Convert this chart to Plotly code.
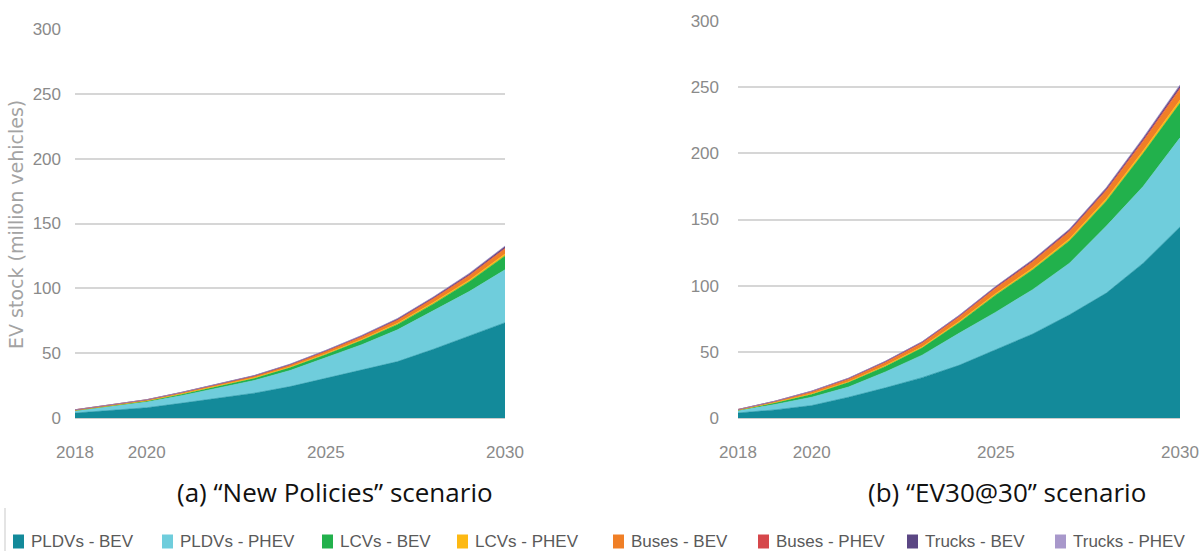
import plotly.graph_objects as go

# Years shown on both panels
years = list(range(2018, 2031))

# EV stock by segment and powertrain, million vehicles — "New Policies" scenario
np_pldv_bev = [3.8, 5.9, 7.9, 11.5, 15.3, 19.1, 24.2, 30.5, 37.0, 43.5, 53.0, 63.0, 73.5]
np_pldv_phev = [1.8, 3.0, 4.4, 5.9, 7.6, 9.8, 12.4, 16.0, 19.5, 24.5, 29.5, 34.5, 40.8]
np_lcv_bev = [0.2, 0.4, 0.8, 1.2, 1.5, 1.7, 2.3, 2.5, 3.4, 4.2, 5.5, 7.6, 10.7]
np_lcv_phev = [0.05, 0.1, 0.15, 0.2, 0.3, 0.4, 0.5, 0.6, 0.7, 0.8, 1.0, 1.2, 1.5]
np_bus_bev = [0.45, 0.6, 0.75, 0.95, 1.1, 1.3, 1.5, 1.8, 2.1, 2.5, 2.9, 3.4, 4.0]
np_bus_phev = [0.03, 0.05, 0.07, 0.1, 0.13, 0.16, 0.2, 0.25, 0.3, 0.35, 0.4, 0.45, 0.5]
np_truck_bev = [0.01, 0.03, 0.06, 0.1, 0.15, 0.22, 0.3, 0.4, 0.5, 0.65, 0.8, 1.0, 1.2]
np_truck_phev = [0.005, 0.01, 0.02, 0.04, 0.06, 0.09, 0.12, 0.16, 0.2, 0.25, 0.3, 0.38, 0.45]

# EV stock by segment and powertrain, million vehicles — "EV30@30" scenario
ev_pldv_bev = [3.8, 6.1, 9.4, 15.7, 22.8, 30.5, 39.8, 51.8, 63.5, 78.0, 94.4, 117.0, 144.4]
ev_pldv_phev = [1.6, 4.1, 6.3, 7.7, 12.0, 17.0, 24.2, 28.2, 33.5, 39.0, 50.6, 58.0, 67.3]
ev_lcv_bev = [0.5, 1.3, 2.3, 3.6, 4.2, 5.5, 8.0, 13.0, 15.0, 17.0, 19.0, 25.0, 26.3]
ev_lcv_phev = [0.05, 0.15, 0.3, 0.45, 0.6, 0.75, 0.9, 1.1, 1.3, 1.5, 1.7, 2.0, 2.3]
ev_bus_bev = [0.45, 0.8, 1.3, 1.8, 2.3, 2.8, 3.3, 3.9, 4.5, 5.2, 6.0, 7.0, 8.2]
ev_bus_phev = [0.03, 0.2, 0.6, 0.6, 0.6, 0.6, 0.6, 0.65, 0.7, 0.75, 0.8, 0.85, 0.9]
ev_truck_bev = [0.01, 0.05, 0.1, 0.2, 0.3, 0.4, 0.55, 0.7, 0.85, 1.0, 1.2, 1.4, 1.7]
ev_truck_phev = [0.005, 0.02, 0.05, 0.08, 0.12, 0.17, 0.22, 0.28, 0.35, 0.42, 0.5, 0.6, 0.7]

series_names = ["PLDVs - BEV", "PLDVs - PHEV", "LCVs - BEV", "LCVs - PHEV",
                "Buses - BEV", "Buses - PHEV", "Trucks - BEV", "Trucks - PHEV"]
series_colors = ["#138a9a", "#6fcddc", "#22b14c", "#fdb913",
                 "#f07f26", "#d6474b", "#5b4784", "#a898cb"]

new_policies = [np_pldv_bev, np_pldv_phev, np_lcv_bev, np_lcv_phev,
                np_bus_bev, np_bus_phev, np_truck_bev, np_truck_phev]
ev3030 = [ev_pldv_bev, ev_pldv_phev, ev_lcv_bev, ev_lcv_phev,
          ev_bus_bev, ev_bus_phev, ev_truck_bev, ev_truck_phev]

W, H = 1203, 551

fig = go.Figure()

for panel, (data, xa, ya) in enumerate([(new_policies, "x", "y"), (ev3030, "x2", "y2")]):
    for name, color, vals in zip(series_names, series_colors, data):
        fig.add_trace(go.Scatter(
            x=years, y=vals, name=name, xaxis=xa, yaxis=ya,
            mode="lines", stackgroup=f"s{panel}",
            line=dict(color=color, width=0.6),
            fillcolor=color, showlegend=False,
        ))

tick_font = dict(family="Liberation Sans, Arial, sans-serif", size=17, color="#8a8a8a")

def xaxis(domain, anchor):
    return dict(domain=domain, anchor=anchor, range=[2018, 2030],
                tickvals=[2018, 2020, 2025, 2030], ticktext=["2018", "2020", "2025", "2030"],
                showgrid=False, zeroline=False, showline=False, ticks="",
                tickfont=tick_font, ticklabelstandoff=22, automargin=False)

def yaxis(domain, anchor, standoff):
    return dict(domain=domain, anchor=anchor, range=[0, 300],
                tickvals=[0, 50, 100, 150, 200, 250, 300],
                showgrid=True, gridcolor="#d6d6d6", gridwidth=2,
                zeroline=True, zerolinecolor="#cccccc", zerolinewidth=2,
                showline=False, ticks="", tickfont=tick_font, ticklabelstandoff=standoff,
                automargin=False)

fig.update_layout(
    width=W, height=H,
    margin=dict(l=0, r=0, t=0, b=0, pad=0, autoexpand=False),
    paper_bgcolor="white", plot_bgcolor="white",
    xaxis=xaxis([75.0 / W, 505.0 / W], "y"),
    yaxis=yaxis([(H - 418.0) / H, (H - 29.0) / H], "x", 13),
    xaxis2=xaxis([738.0 / W, 1180.0 / W], "y2"),
    yaxis2=yaxis([(H - 418.0) / H, (H - 21.0) / H], "x2", 18),
    showlegend=False,
)

annotations = []
shapes = []

# Y-axis title of the left panel
annotations.append(dict(
    x=16.5 / W, y=(H - 224.5) / H, xref="paper", yref="paper",
    text="EV stock (million vehicles)", textangle=-90, showarrow=False,
    font=dict(family="DejaVu Sans, sans-serif", size=19, color="#a3a3a3"),
    xanchor="center", yanchor="middle",
))

# Panel captions
caption_font = dict(family="Open Sans, Noto Sans, sans-serif", size=26, color="#111111")
for cx, txt in [(334.5, "(a) \u201cNew Policies\u201d scenario"), (1006.5, "(b) \u201cEV30@30\u201d scenario")]:
    annotations.append(dict(x=cx / W, y=(H - 492) / H, xref="paper", yref="paper",
                            text=txt, showarrow=False, font=caption_font,
                            xanchor="center", yanchor="middle"))

# Shared key along the bottom
key_x = [13, 162, 322, 457, 613, 758, 907, 1055]
key_y = 541.5
legend_font = dict(family="Liberation Sans, Arial, sans-serif", size=17, color="#5a5a5a")
for kx, name, color in zip(key_x, series_names, series_colors):
    shapes.append(dict(type="rect", xref="paper", yref="paper",
                       x0=kx / W, x1=(kx + 11) / W,
                       y0=(H - key_y - 7) / H, y1=(H - key_y + 7) / H,
                       fillcolor=color, line=dict(width=0)))
    annotations.append(dict(x=(kx + 16) / W, y=(H - key_y) / H, xref="paper", yref="paper",
                            text=name, showarrow=False, font=legend_font,
                            xanchor="left", yanchor="middle"))

# Thin rule at the left edge of the key
shapes.append(dict(type="line", xref="paper", yref="paper",
                   x0=5 / W, x1=5 / W, y0=0, y1=(H - 508) / H,
                   line=dict(color="#e4e4e4", width=2)))

fig.update_layout(annotations=annotations, shapes=shapes)

fig.write_html("out.html")
